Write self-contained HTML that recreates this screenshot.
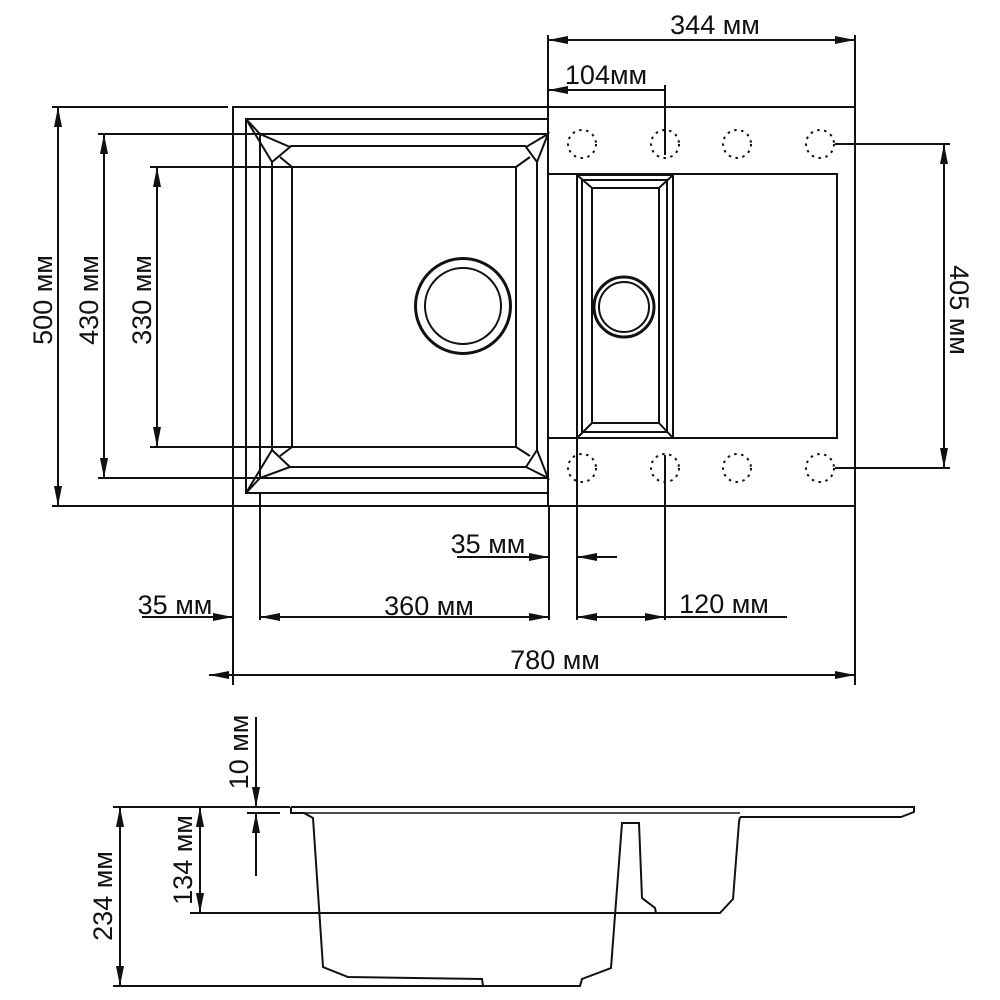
<!DOCTYPE html>
<html><head><meta charset="utf-8"><style>
html,body{margin:0;padding:0;background:#fff;}
svg{display:block;}
text{font-family:"Liberation Sans",sans-serif;font-size:27px;fill:#111;}
</style></head><body>
<svg width="1000" height="1000" viewBox="0 0 1000 1000" xmlns="http://www.w3.org/2000/svg">
<defs>
<marker id="a" viewBox="0 0 20 8" refX="20" refY="4" markerWidth="20" markerHeight="8" markerUnits="userSpaceOnUse" orient="auto-start-reverse">
<path d="M0,0 L20,4 L0,8 z" fill="#111"/>
</marker>
</defs>
<g stroke="#111" stroke-width="2" fill="none">
<!-- outer -->
<rect x="233" y="107" width="622" height="399"/>
<line x1="548" y1="107" x2="548" y2="506"/>
<!-- big bowl -->
<polyline points="548,119 246,119 246,493 548,493"/>
<polyline points="548,134 260,134 260,478 548,478"/>
<path d="M290,146 H526 M272,162 V450 M290,467 H526 M537,162 V450"/>
<rect x="292" y="167" width="224" height="280"/>
<!-- corner triangles -->
<path d="M246,119 L260,134 L290,147 L272,162 Z M280,157 L292,167"/>
<path d="M246,493 L260,478 L290,467 L272,450 Z M280,456 L292,447"/>
<path d="M548,134 L526,147 L537,162 Z M530,157 L516,167"/>
<path d="M548,478 L526,467 L537,450 Z M530,456 L516,447"/>
<circle cx="463" cy="306" r="47.5" stroke-width="3"/>
<circle cx="463" cy="306" r="38"/>
<!-- drainboard -->
<rect x="548" y="174" width="289" height="264"/>
<!-- small bowl -->
<rect x="577" y="175" width="96" height="263"/>
<rect x="582" y="180" width="85" height="252"/>
<rect x="592" y="188" width="67" height="235"/>
<path d="M577,175 L592,188 M673,175 L659,188 M577,438 L592,423 M673,438 L659,423"/>
<circle cx="624" cy="307" r="30" stroke-width="3"/>
<circle cx="624" cy="307" r="25"/>
<!-- dotted holes -->
<g stroke-dasharray="2.5,4.5">
<circle cx="582" cy="144" r="14"/><circle cx="665" cy="144" r="14"/><circle cx="737" cy="144" r="14"/><circle cx="820" cy="144" r="14"/>
<circle cx="582" cy="468" r="14"/><circle cx="665" cy="468" r="14"/><circle cx="737" cy="468" r="14"/><circle cx="820" cy="468" r="14"/>
</g>
<!-- extension lines top view -->
<path d="M548,35 V107 M855,35 V107 M665,85 V155 M228,107 H52 M233,506 H52 M260,134 H98 M260,478 H98 M292,167 H150 M292,447 H150 M835,144 H950 M835,468 H950"/>
<path d="M549,506 V620 M577,438 V620 M665,455 V620 M260,493 V620 M233,506 V685 M855,506 V685"/>
</g>
<!-- dimension lines -->
<g stroke="#111" stroke-width="2" fill="none">
<line x1="548" y1="40" x2="855" y2="40" marker-start="url(#a)" marker-end="url(#a)"/>
<line x1="548" y1="90" x2="665" y2="90" marker-start="url(#a)"/>
<line x1="58" y1="107" x2="58" y2="506" marker-start="url(#a)" marker-end="url(#a)"/>
<line x1="104" y1="134" x2="104" y2="478" marker-start="url(#a)" marker-end="url(#a)"/>
<line x1="157" y1="167" x2="157" y2="447" marker-start="url(#a)" marker-end="url(#a)"/>
<line x1="944" y1="144" x2="944" y2="468" marker-start="url(#a)" marker-end="url(#a)"/>
<line x1="457" y1="557" x2="549" y2="557" marker-end="url(#a)"/>
<line x1="617" y1="557" x2="577" y2="557" marker-end="url(#a)"/>
<line x1="142" y1="617" x2="233" y2="617" marker-end="url(#a)"/>
<line x1="260" y1="617" x2="549" y2="617" marker-start="url(#a)" marker-end="url(#a)"/>
<line x1="577" y1="617" x2="665" y2="617" marker-start="url(#a)" marker-end="url(#a)"/>
<line x1="665" y1="617" x2="787" y2="617"/>
<line x1="209" y1="675" x2="855" y2="675" marker-start="url(#a)" marker-end="url(#a)"/>
</g>
<text x="715" y="34" text-anchor="middle">344 мм</text>
<text x="606" y="84" text-anchor="middle">104мм</text>
<text transform="translate(52,300) rotate(-90)" text-anchor="middle">500 мм</text>
<text transform="translate(98,300) rotate(-90)" text-anchor="middle">430 мм</text>
<text transform="translate(151,300) rotate(-90)" text-anchor="middle">330 мм</text>
<text transform="translate(950,310) rotate(90)" text-anchor="middle">405 мм</text>
<text x="488" y="553" text-anchor="middle">35 мм</text>
<text x="175" y="614" text-anchor="middle">35 мм</text>
<text x="429" y="615" text-anchor="middle">360 мм</text>
<text x="724" y="613" text-anchor="middle">120 мм</text>
<text x="555" y="669" text-anchor="middle">780 мм</text>
<!-- profile -->
<g stroke="#111" stroke-width="2" fill="none">
<path d="M291,807 H914 V812 L901,817 H740 M291,807 V813 H304 L313,818 L323,967 L348,977 L482,979 L483,986 L580,986 L582,979 L611,968 L622,823 L639,823 L642,898 L655,908 L656,913 L720,913 L733,899 L739,822 L740,817"/>
<path d="M304,813 H740" stroke-width="1.5"/>
<path d="M113,807 H290 M113,986 H580 M190,913 H720 M247,813 H280"/>
<line x1="120" y1="807" x2="120" y2="986" marker-start="url(#a)" marker-end="url(#a)"/>
<line x1="200" y1="807" x2="200" y2="913" marker-start="url(#a)" marker-end="url(#a)"/>
<line x1="256" y1="717" x2="256" y2="807" marker-end="url(#a)"/>
<line x1="256" y1="876" x2="256" y2="813" marker-end="url(#a)"/>
</g>
<text transform="translate(112,896) rotate(-90)" text-anchor="middle">234 мм</text>
<text transform="translate(192,860) rotate(-90)" text-anchor="middle">134 мм</text>
<text transform="translate(248,752) rotate(-90)" text-anchor="middle">10 мм</text>
</svg>
</body></html>
